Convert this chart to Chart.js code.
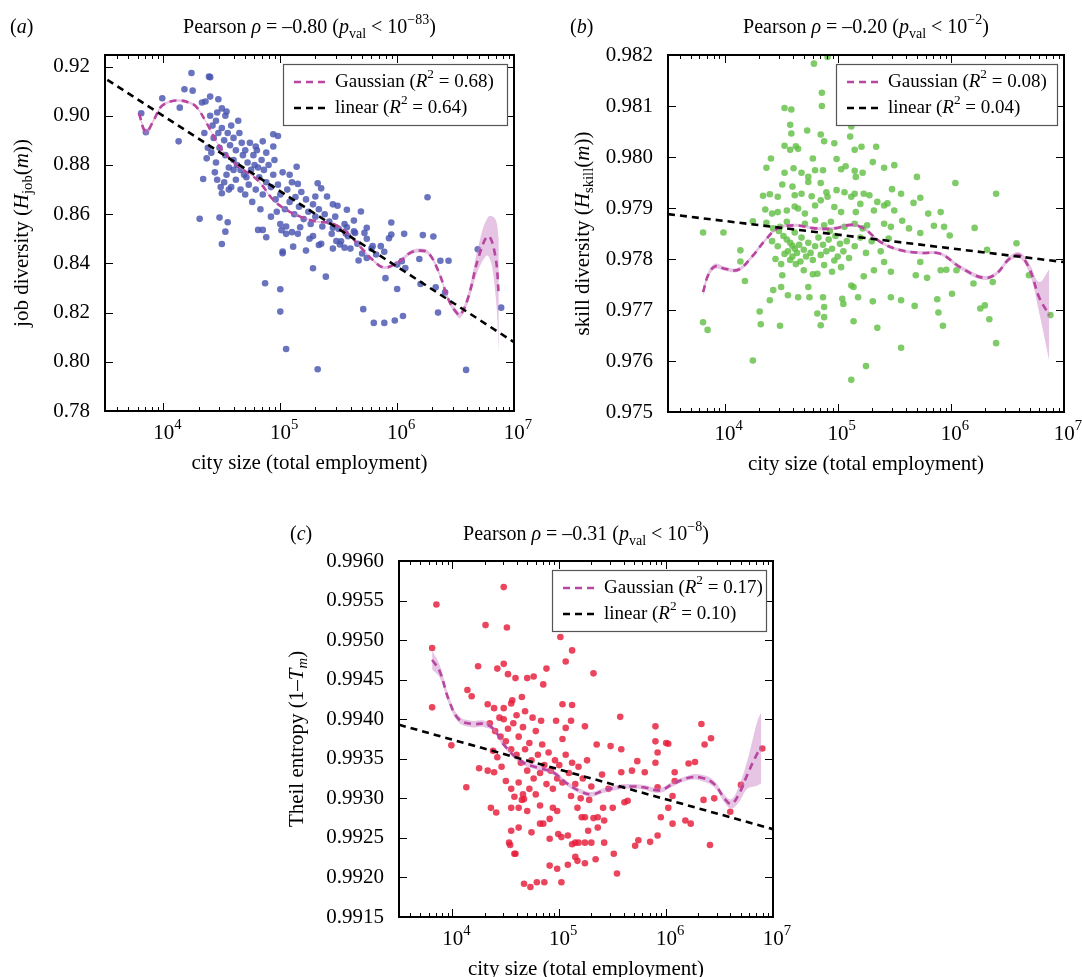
<!DOCTYPE html>
<html>
<head>
<meta charset="utf-8">
<script src="https://cdn.jsdelivr.net/npm/chart.js@4"></script>
<style>
  body { margin: 0; background: #fff; width: 1082px; height: 977px; position: relative; overflow: hidden; }
  canvas { position: absolute; }
</style>
</head>
<body>
<canvas id="ca" width="540" height="480" style="left:0px;top:0px"></canvas>
<canvas id="cb" width="522" height="480" style="left:560px;top:0px"></canvas>
<canvas id="cc" width="520" height="477" style="left:280px;top:500px"></canvas>
<script>
// city size is stored as log10(total employment)
const jobPts = [
  [4.24,0.9174],[4.39,0.9159],[4.40,0.9157],[4.18,0.9108],[4.25,0.9102],[3.99,0.9071],[4.40,0.9078],[4.47,0.9067],
  [4.33,0.9054],[4.36,0.9058],[4.14,0.9033],[3.81,0.9010],[3.85,0.8933],[4.13,0.8896],[4.46,0.9013],[4.54,0.9017],
  [4.53,0.9000],[4.94,0.8925],[4.98,0.8918],[4.85,0.8896],[4.79,0.8875],[4.94,0.8875],[4.37,0.8827],[4.34,0.8743],
  [4.50,0.8685],[5.14,0.8793],[5.08,0.8760],[5.15,0.8723],[5.32,0.8726],[5.35,0.8705],[5.40,0.8672],[5.30,0.8672],
  [4.31,0.8581],[4.48,0.8586],[4.55,0.8567],[4.53,0.8529],[4.50,0.8479],[4.81,0.8536],[4.88,0.8506],[4.85,0.8536],
  [5.02,0.8441],[5.02,0.8448],[5.11,0.8468],[5.22,0.8452],[5.33,0.8475],[5.28,0.8511],[5.01,0.8535],[5.05,0.8520],
  [5.10,0.8527],[5.17,0.8547],[4.87,0.8319],[5.00,0.8295],[5.00,0.8204],[5.05,0.8052],[5.32,0.7970],[5.28,0.8380],
  [5.39,0.8346],[5.45,0.8640],[5.49,0.8634],[5.57,0.8618],[5.69,0.8611],[5.63,0.8574],[5.57,0.8547],[5.74,0.8545],
  [5.72,0.8524],[5.64,0.8524],[5.56,0.8521],[5.45,0.8545],[5.48,0.8491],[5.51,0.8477],[5.55,0.8464],[5.71,0.8214],
  [5.80,0.8158],[5.89,0.8158],[5.98,0.8168],[6.05,0.8186],[5.95,0.8566],[5.95,0.8517],[5.93,0.8502],[6.06,0.8520],
  [6.22,0.8515],[6.31,0.8509],[6.26,0.8669],[6.19,0.8418],[6.37,0.8411],[6.44,0.8411],[5.90,0.8340],[6.00,0.8296],
  [6.20,0.8316],[6.33,0.8303],[6.41,0.8282],[6.35,0.8200],[6.59,0.7967],[6.69,0.8457],[6.89,0.8220],[5.79,0.8470],
  [5.86,0.8470],[5.89,0.8447],[5.82,0.8436],[5.74,0.8422],[5.67,0.8412],[6.04,0.8409],[6.00,0.8395],[6.07,0.8381],
  [4.40,0.900],[4.42,0.896],[4.45,0.898],[4.47,0.893],[4.43,0.891],[4.50,0.895],[4.52,0.890],[4.48,0.887],
  [4.55,0.893],[4.57,0.888],[4.53,0.884],[4.58,0.896],[4.60,0.891],[4.62,0.886],[4.60,0.882],[4.63,0.880],
  [4.56,0.879],[4.65,0.893],[4.67,0.889],[4.68,0.884],[4.66,0.878],[4.70,0.886],[4.72,0.881],[4.69,0.876],
  [4.74,0.889],[4.75,0.878],[4.77,0.884],[4.73,0.872],[4.78,0.880],[4.80,0.886],[4.82,0.875],[4.79,0.870],
  [4.84,0.882],[4.86,0.878],[4.88,0.873],[4.85,0.868],[4.90,0.880],[4.92,0.871],[4.94,0.876],[4.96,0.866],
  [4.98,0.872],[5.00,0.868],[5.02,0.877],[5.04,0.862],[5.06,0.870],[5.08,0.865],[5.10,0.873],[5.12,0.860],
  [5.13,0.867],[5.16,0.863],[5.18,0.869],[5.20,0.858],[5.22,0.866],[5.24,0.861],[5.26,0.856],[5.28,0.864],
  [5.30,0.859],[5.33,0.862],[5.36,0.855],[5.38,0.860],[5.42,0.857],[5.44,0.852],[5.47,0.859],[5.50,0.854],
  [5.52,0.849],[5.55,0.856],[5.58,0.851],[5.60,0.846],[5.63,0.853],[5.66,0.848],[5.70,0.844],[5.74,0.850],
  [5.78,0.846],[4.62,0.874],[4.54,0.876],[4.45,0.881],[4.38,0.887],[4.41,0.885],[4.58,0.871],[4.70,0.868],
  [4.76,0.865],[4.83,0.862],[4.92,0.859],[5.00,0.856],[4.88,0.885],[4.95,0.882],[4.64,0.898],[4.50,0.903],
  [4.35,0.893],[4.44,0.877],[4.52,0.873],[4.66,0.870],[4.97,0.861],[5.05,0.855],[5.15,0.852],[5.25,0.850],
  [5.35,0.848],[5.45,0.846],[4.46,0.874],[4.49,0.871],[4.56,0.870],[4.60,0.878],[4.71,0.875],[4.81,0.879]
];
const skillPts = [
  [4.91,0.98196],[4.79,0.98183],[4.86,0.98126],[4.86,0.98100],[4.53,0.98096],[4.59,0.98093],[4.58,0.98063],[4.59,0.98046],
  [4.73,0.98052],[4.85,0.98044],[4.88,0.98031],[4.97,0.98027],[5.12,0.98060],[5.11,0.98040],[5.15,0.98014],[5.21,0.98020],
  [5.34,0.98020],[4.53,0.98022],[4.58,0.98014],[4.63,0.98021],[4.65,0.98016],[4.41,0.97997],[4.78,0.97997],[4.99,0.97996],
  [4.37,0.97979],[4.53,0.97969],[4.61,0.97978],[4.68,0.97969],[4.74,0.97961],[4.80,0.97974],[4.87,0.97974],[5.03,0.97976],
  [5.07,0.97982],[5.15,0.97973],[5.16,0.97961],[5.22,0.97969],[5.31,0.97990],[5.41,0.97979],[5.50,0.97984],[5.70,0.97961],
  [6.04,0.97949],[4.51,0.97946],[4.60,0.97942],[4.74,0.97951],[4.85,0.97949],[4.99,0.97935],[5.06,0.97931],[5.15,0.97928],
  [5.23,0.97928],[4.34,0.97924],[4.40,0.97927],[4.47,0.97922],[4.62,0.97925],[4.68,0.97928],[4.77,0.97923],[4.90,0.97931],
  [4.91,0.97922],[5.12,0.97922],[5.28,0.97925],[5.35,0.97912],[5.44,0.97909],[5.48,0.97937],[5.56,0.97928],[5.67,0.97910],
  [5.73,0.97920],[6.40,0.97928],[4.36,0.97897],[4.42,0.97889],[4.47,0.97892],[4.55,0.97895],[4.62,0.97903],[4.65,0.97899],
  [4.71,0.97889],[4.80,0.97905],[4.85,0.97915],[4.97,0.97902],[5.03,0.97892],[5.16,0.97892],[5.20,0.97908],[5.32,0.97895],
  [5.41,0.97905],[5.50,0.97895],[5.57,0.97875],[5.80,0.97889],[5.91,0.97892],[4.25,0.97874],[4.37,0.97871],[4.43,0.97860],
  [4.49,0.97863],[4.55,0.97873],[4.71,0.97869],[4.80,0.97876],[4.88,0.97866],[4.94,0.97873],[5.06,0.97863],[5.15,0.97869],
  [5.26,0.97866],[5.41,0.97869],[5.47,0.97863],[5.63,0.97860],[5.73,0.97851],[5.85,0.97865],[5.94,0.97863],[5.99,0.97846],
  [6.21,0.97861],[3.81,0.97852],[3.99,0.97852],[4.14,0.97817],[4.14,0.97795],[4.18,0.97757],[3.81,0.97676],[3.85,0.97661],
  [4.25,0.97601],[4.31,0.97697],[4.32,0.97672],[4.49,0.97669],[4.40,0.97719],[4.43,0.97739],[4.50,0.97745],[4.51,0.97768],
  [4.56,0.97729],[4.65,0.97725],[4.74,0.97745],[4.75,0.97725],[4.82,0.97771],[4.87,0.97725],[4.88,0.97706],[4.88,0.97686],
  [4.85,0.97670],[4.82,0.97693],[4.97,0.97797],[5.03,0.97784],[5.04,0.97722],[5.05,0.97712],[5.12,0.97748],[5.14,0.97745],
  [5.18,0.97725],[5.14,0.97678],[5.23,0.97766],[5.31,0.97717],[5.35,0.97665],[5.32,0.97778],[5.41,0.97794],[5.47,0.97775],
  [5.47,0.97725],[5.56,0.97719],[5.56,0.97626],[5.68,0.97708],[5.69,0.97768],[5.73,0.97794],[5.79,0.97763],[5.88,0.97721],
  [5.89,0.97695],[5.93,0.97669],[5.91,0.97778],[5.96,0.97779],[6.05,0.97778],[6.01,0.97732],[6.20,0.97752],[6.26,0.97703],
  [6.30,0.97709],[6.34,0.97682],[6.37,0.97755],[6.40,0.97635],[6.58,0.97831],[6.69,0.97768],[6.88,0.97690],[6.32,0.97818],
  [5.12,0.97563],[5.25,0.97590],
  [4.52,0.97845],[4.55,0.97838],[4.58,0.97832],[4.60,0.97826],[4.62,0.97820],[4.56,0.97815],[4.53,0.97810],[4.60,0.97805],
  [4.64,0.97812],[4.66,0.97828],[4.68,0.97842],[4.70,0.97818],[4.72,0.97805],[4.58,0.97798],[4.63,0.97790],[4.67,0.97795],
  [4.74,0.97832],[4.76,0.97812],[4.78,0.97798],[4.80,0.97825],[4.83,0.97842],[4.85,0.97808],[4.87,0.97828],[4.90,0.97815],
  [4.92,0.97838],[4.95,0.97820],[4.98,0.97845],[5.00,0.97805],[5.02,0.97830],[5.05,0.97815],[5.08,0.97835],[5.10,0.97802],
  [4.47,0.97825],[4.45,0.97800],[4.50,0.97790],[4.70,0.97778],[4.78,0.97770],[4.88,0.97788],[4.95,0.97775],[5.15,0.97825],
  [5.20,0.97842],[5.25,0.97812],[5.30,0.97835],[5.38,0.97815],[5.45,0.97840],[4.42,0.97835],[4.48,0.97855],[4.62,0.97852],
  [4.93,0.97855],[5.22,0.97860]
];
const theilPts = [
  [3.85,0.99545],[4.48,0.99567],[4.31,0.99519],[4.51,0.99516],[5.01,0.99504],[5.12,0.99487],[5.06,0.99473],[5.32,0.99458],
  [3.81,0.99490],[3.81,0.99415],[4.24,0.99467],[4.42,0.99464],[4.48,0.99470],[4.52,0.99457],[4.59,0.99452],[4.70,0.99452],
  [4.76,0.99454],[4.88,0.99464],[4.85,0.99444],[4.14,0.99437],[4.18,0.99429],[4.33,0.99419],[4.39,0.99414],[4.48,0.99414],
  [4.56,0.99424],[4.65,0.99428],[3.99,0.99367],[4.13,0.99314],[4.25,0.99338],[4.33,0.99335],[4.39,0.99333],[5.03,0.99419],
  [5.12,0.99418],[4.97,0.99398],[5.06,0.99389],[5.11,0.99398],[5.24,0.99391],[5.03,0.99375],[5.35,0.99368],[5.48,0.99366],
  [5.58,0.99362],[5.57,0.99403],[5.90,0.99391],[5.90,0.99372],[6.00,0.99370],[6.02,0.99369],[5.90,0.99345],[5.92,0.99358],
  [5.73,0.99347],[5.68,0.99335],[5.80,0.99333],[5.58,0.99333],[6.08,0.99333],[6.08,0.99322],[6.21,0.99344],[6.27,0.99346],
  [6.33,0.99394],[6.36,0.99368],[6.42,0.99376],[6.35,0.99298],[6.45,0.99300],[6.60,0.99283],[6.70,0.99317],[6.90,0.99363],
  [5.92,0.99314],[6.02,0.99288],[6.06,0.99303],[6.06,0.99268],[6.18,0.99272],[6.23,0.99268],[5.95,0.99276],[5.92,0.99253],
  [5.85,0.99245],[5.74,0.99247],[5.71,0.99240],[5.51,0.99230],[5.54,0.99205],[5.42,0.99244],[5.30,0.99244],[5.36,0.99263],
  [5.27,0.99259],[6.41,0.99241],[4.67,0.99192],[4.73,0.99188],[4.79,0.99194],[4.86,0.99194],[4.91,0.99215],[4.98,0.99211],
  [5.02,0.99194],[5.08,0.99216],[5.15,0.99226],[5.17,0.99221],[5.24,0.99218],[5.34,0.99223],[4.53,0.99244],[4.54,0.99241],
  [4.58,0.99230],[4.59,0.99230],[4.55,0.99259],[4.62,0.99263],[4.74,0.99257],[4.82,0.99268],[4.85,0.99268],[4.91,0.99249],
  [4.99,0.99255],[5.02,0.99251],[5.08,0.99253],[5.12,0.99242],[5.15,0.99244],[5.18,0.99244],[5.24,0.99244],[4.36,0.99288],
  [4.41,0.99282],[4.55,0.99288],[4.62,0.99288],[4.67,0.99299],[4.70,0.99284],[4.82,0.99291],[4.91,0.99274],[4.94,0.99288],
  [4.98,0.99284],[5.11,0.99303],[5.17,0.99288],[5.21,0.99276],[5.24,0.99276],[5.32,0.99275],[5.36,0.99276],[5.41,0.99288],
  [5.42,0.99272],[5.50,0.99288],[5.61,0.99295],[5.64,0.99297],
  [4.35,0.99395],[4.40,0.99385],[4.45,0.99378],[4.48,0.99400],[4.50,0.99372],[4.52,0.99388],[4.55,0.99362],[4.57,0.99395],
  [4.60,0.99355],[4.62,0.99378],[4.64,0.99345],[4.66,0.99390],[4.68,0.99362],[4.70,0.99335],[4.72,0.99370],[4.74,0.99348],
  [4.76,0.99325],[4.78,0.99385],[4.80,0.99355],[4.82,0.99332],[4.84,0.99368],[4.86,0.99342],[4.88,0.99318],[4.90,0.99358],
  [4.92,0.99335],[4.94,0.99312],[4.96,0.99348],[4.98,0.99325],[5.00,0.99342],[5.03,0.99320],[5.06,0.99355],[5.09,0.99332],
  [5.12,0.99345],[5.15,0.99318],[5.18,0.99340],[5.22,0.99325],[5.26,0.99348],[5.30,0.99315],[4.42,0.99352],[4.46,0.99340],
  [4.50,0.99322],[4.55,0.99312],[4.58,0.99302],[4.62,0.99320],[4.66,0.99305],[4.60,0.99405],[4.68,0.99410],[4.75,0.99402],
  [4.83,0.99398],[4.55,0.99420],[4.38,0.99360],[4.44,0.99402],[4.65,0.99298],[4.72,0.99312],[4.78,0.99305],[5.20,0.99300],
  [5.28,0.99298],[5.40,0.99330],[5.46,0.99312]
];
// gaussian fit: [log10 size, value, band half width]
const gaussA = [
  [3.79,0.9010,0.0010],[3.85,0.8935,0.0012],[3.92,0.8985,0.0008],[3.98,0.9037,0.0006],[4.06,0.9058,0.0005],[4.14,0.9062,0.0005],
  [4.21,0.9055,0.0005],[4.28,0.9037,0.0005],[4.37,0.8970,0.0004],[4.48,0.8875,0.0004],[4.57,0.8825,0.0004],[4.66,0.8787,0.0004],
  [4.75,0.8760,0.0004],[4.83,0.8726,0.0004],[4.94,0.8658,0.0004],[5.05,0.8618,0.0004],[5.17,0.8590,0.0004],[5.31,0.8570,0.0004],
  [5.45,0.8561,0.0005],[5.57,0.8524,0.0005],[5.68,0.8470,0.0005],[5.79,0.8415,0.0006],[5.89,0.8383,0.0006],[6.02,0.8408,0.0007],
  [6.12,0.8445,0.0008],[6.20,0.8452,0.0008],[6.27,0.8441,0.0008],[6.36,0.8360,0.0009],[6.44,0.8252,0.0010],[6.50,0.8205,0.0012],
  [6.54,0.8190,0.0012],[6.61,0.8265,0.0020],[6.70,0.8430,0.0050],[6.78,0.8510,0.0080],[6.84,0.8430,0.0150],[6.87,0.8270,0.0230]
];
const gaussB = [
  [3.81,0.97735,0.00008],[3.86,0.97771,0.00006],[3.92,0.97786,0.00005],[4.00,0.97781,0.00004],[4.12,0.97779,0.00004],
  [4.24,0.97804,0.00004],[4.36,0.97837,0.00003],[4.47,0.97860,0.00003],[4.62,0.97866,0.00003],[4.80,0.97860,0.00003],
  [4.97,0.97860,0.00003],[5.12,0.97867,0.00003],[5.23,0.97860,0.00003],[5.38,0.97833,0.00003],[5.56,0.97817,0.00003],
  [5.73,0.97812,0.00003],[5.91,0.97810,0.00003],[6.08,0.97784,0.00004],[6.29,0.97763,0.00004],[6.40,0.97771,0.00004],
  [6.52,0.97801,0.00005],[6.61,0.97807,0.00006],[6.70,0.97778,0.00010],[6.78,0.97725,0.00030],[6.87,0.97690,0.00090]
];
const gaussC = [
  [3.81,0.99475,0.00012],[3.88,0.99461,0.00008],[3.97,0.99423,0.00005],[4.06,0.99400,0.00004],[4.18,0.99394,0.00004],
  [4.30,0.99394,0.00004],[4.39,0.99387,0.00003],[4.48,0.99368,0.00003],[4.64,0.99347,0.00003],[4.79,0.99339,0.00003],
  [4.94,0.99333,0.00003],[5.06,0.99320,0.00003],[5.18,0.99310,0.00003],[5.30,0.99305,0.00003],[5.42,0.99310,0.00003],
  [5.55,0.99314,0.00003],[5.67,0.99315,0.00003],[5.79,0.99314,0.00003],[5.94,0.99310,0.00003],[6.06,0.99318,0.00003],
  [6.21,0.99326,0.00003],[6.33,0.99326,0.00004],[6.45,0.99318,0.00004],[6.55,0.99299,0.00005],[6.61,0.99293,0.00006],
  [6.68,0.99305,0.00010],[6.76,0.99330,0.00018],[6.85,0.99356,0.00040],[6.89,0.99364,0.00045]
];
const linA = [[3.52,0.9146],[7.0,0.8080]];
const linB = [[3.50,0.97888],[7.0,0.97794]];
const linC = [[3.50,0.99393],[7.0,0.99261]];

const yTicksA = [0.78,0.80,0.82,0.84,0.86,0.88,0.90,0.92];
const yTicksB = [0.975,0.976,0.977,0.978,0.979,0.980,0.981,0.982];
const yTicksC = [0.9915,0.9920,0.9925,0.9930,0.9935,0.9940,0.9945,0.9950,0.9955,0.9960];
const xPowers = [4,5,6,7];

const SERIF = '"Liberation Serif", "DejaVu Serif", serif';
const GCOL = '#b8459f';

function richWidth(ctx, segs, size) {
  let w = 0;
  for (const s of segs) {
    const fs = s.s ? size * 0.7 : size;
    ctx.font = (s.i ? 'italic ' : '') + fs + 'px ' + SERIF;
    w += ctx.measureText(s.t).width;
  }
  return w;
}
// draw text pieces, some italic / sub / sup
function drawRich(ctx, x, y, segs, size, align) {
  const w = richWidth(ctx, segs, size);
  let cx = align === 'center' ? x - w / 2 : (align === 'right' ? x - w : x);
  ctx.textBaseline = 'middle';
  ctx.textAlign = 'left';
  ctx.fillStyle = '#000';
  for (const s of segs) {
    const fs = s.s ? size * 0.7 : size;
    ctx.font = (s.i ? 'italic ' : '') + fs + 'px ' + SERIF;
    const dy = s.s === 'sub' ? size * 0.3 : (s.s === 'sup' ? -size * 0.38 : 0);
    ctx.fillText(s.t, cx, y + dy);
    cx += ctx.measureText(s.t).width;
  }
}
const T = (t, o) => Object.assign({ t }, o || {});

function makePanel(id, cfg) {
  const band = cfg.gauss;
  const decor = {
    id: 'decor',
    afterDraw(chart) {
      const ctx = chart.ctx, a = chart.chartArea, xs = chart.scales.x, ys = chart.scales.y;
      ctx.save();
      // inward ticks on all sides
      ctx.strokeStyle = '#000';
      ctx.lineWidth = 1;
      ctx.beginPath();
      for (let p = 3; p < 7; p++) {
        for (let k = 1; k < 10; k++) {
          const v = k * Math.pow(10, p);
          if (v < xs.min || v > xs.max) continue;
          const px = Math.round(xs.getPixelForValue(v)) + 0.5;
          const len = k === 1 ? 8 : 4;
          ctx.moveTo(px, a.bottom); ctx.lineTo(px, a.bottom - len);
          ctx.moveTo(px, a.top); ctx.lineTo(px, a.top + len);
        }
      }
      for (const v of cfg.yTicks) {
        const py = Math.round(ys.getPixelForValue(v)) + 0.5;
        ctx.moveTo(a.left, py); ctx.lineTo(a.left + 8, py);
        ctx.moveTo(a.right, py); ctx.lineTo(a.right - 8, py);
      }
      ctx.stroke();
      ctx.lineWidth = 2;
      ctx.strokeRect(a.left, a.top, a.right - a.left, a.bottom - a.top);
      // x tick labels 10^n
      for (const p of xPowers) {
        const px = xs.getPixelForValue(Math.pow(10, p));
        drawRich(ctx, px + 4, a.bottom + 22, [T('10'), T(String(p), { s: 'sup' })], 21, 'center');
      }
      // axis titles
      drawRich(ctx, (a.left + a.right) / 2, a.bottom + 52, [T('city size (total employment)')], 21, 'center');
      ctx.save();
      ctx.translate(cfg.yTitleX, (a.top + a.bottom) / 2);
      ctx.rotate(-Math.PI / 2);
      drawRich(ctx, 0, 0, cfg.yTitle, 21, 'center');
      ctx.restore();
      // title and panel letter
      drawRich(ctx, (a.left + a.right) / 2, cfg.titleY, cfg.title, 20, 'center');
      drawRich(ctx, cfg.letterX, cfg.titleY, cfg.letter, 20, 'left');
      // legend
      const lw = cfg.legendW, lh = 61;
      const lx = a.right - 7 - lw, ly = a.top + 9;
      ctx.fillStyle = '#fff';
      ctx.fillRect(lx, ly, lw, lh);
      ctx.strokeStyle = '#555';
      ctx.lineWidth = 1.2;
      ctx.strokeRect(lx + 0.5, ly + 0.5, lw, lh);
      const rows = [[GCOL, cfg.legend[0]], ['#000', cfg.legend[1]]];
      rows.forEach((r, i) => {
        const yy = ly + 18 + i * 26;
        ctx.strokeStyle = r[0];
        ctx.lineWidth = 2.6;
        ctx.setLineDash([7, 5]);
        ctx.beginPath(); ctx.moveTo(lx + 11, yy); ctx.lineTo(lx + 42, yy); ctx.stroke();
        ctx.setLineDash([]);
        drawRich(ctx, lx + 52, yy, r[1], 19, 'left');
      });
      ctx.restore();
    }
  };
  return new Chart(document.getElementById(id), {
    type: 'scatter',
    data: {
      datasets: [
        { data: band.map(g => ({ x: Math.pow(10, g[0]), y: g[1] - g[2] })), showLine: true, pointRadius: 0,
          borderWidth: 0, borderColor: 'rgba(0,0,0,0)', tension: 0.4, order: 4 },
        { data: band.map(g => ({ x: Math.pow(10, g[0]), y: g[1] + g[2] })), showLine: true, pointRadius: 0,
          borderWidth: 0, borderColor: 'rgba(0,0,0,0)', backgroundColor: 'rgba(200,125,195,0.45)', fill: '-1', tension: 0.4, order: 4 },
        { data: cfg.points.map(p => ({ x: Math.pow(10, p[0]), y: p[1] })), pointRadius: 3.3, pointBorderWidth: 0,
          backgroundColor: cfg.color, order: 5 },
        { data: band.map(g => ({ x: Math.pow(10, g[0]), y: g[1] })), showLine: true, pointRadius: 0,
          borderColor: GCOL, borderWidth: 2.6, borderDash: [7, 5], tension: 0.4, order: 2 },
        { data: cfg.lin.map(p => ({ x: Math.pow(10, p[0]), y: p[1] })), showLine: true, pointRadius: 0,
          borderColor: '#000', borderWidth: 2.6, borderDash: [7, 5], order: 1 }
      ]
    },
    options: {
      responsive: false, animation: false, devicePixelRatio: 1,
      layout: { padding: { top: cfg.pad[0], right: cfg.pad[1], left: 0, bottom: 0 } },
      plugins: { legend: { display: false }, tooltip: { enabled: false } },
      scales: {
        x: { type: 'logarithmic', min: Math.pow(10, 3.5), max: 1e7, grid: { display: false }, border: { display: false },
             ticks: { display: false }, afterFit: s => { s.height = cfg.xH; } },
        y: { min: cfg.yTicks[0], max: cfg.yMax, grid: { display: false }, border: { display: false },
             afterBuildTicks: s => { s.ticks = cfg.yTicks.map(v => ({ value: v })); },
             ticks: { color: '#000', padding: 7, font: { family: SERIF, size: 21 }, callback: v => v.toFixed(cfg.dec) },
             afterFit: s => { s.width = cfg.yW; } }
      }
    },
    plugins: [decor]
  });
}

makePanel('ca', {
  points: jobPts, gauss: gaussA, lin: linA, yTicks: yTicksA, yMax: 0.9247, dec: 2,
  color: 'rgba(72,84,176,0.82)', pad: [55, 26], xH: 69, yW: 105, yTitleX: 22, titleY: 28, letterX: 10, legendW: 224,
  yTitle: [T('job diversity ('), T('H', { i: 1 }), T('job', { s: 'sub' }), T('('), T('m', { i: 1 }), T('))')],
  title: [T('Pearson '), T('ρ', { i: 1 }), T(' = –0.80 ('), T('p', { i: 1 }), T('val', { s: 'sub' }), T(' < 10'), T('−83', { s: 'sup' }), T(')')],
  letter: [T('('), T('a', { i: 1 }), T(')')],
  legend: [[T('Gaussian ('), T('R', { i: 1 }), T('2', { s: 'sup' }), T(' = 0.68)')], [T('linear ('), T('R', { i: 1 }), T('2', { s: 'sup' }), T(' = 0.64)')]]
});
makePanel('cb', {
  points: skillPts, gauss: gaussB, lin: linB, yTicks: yTicksB, yMax: 0.982, dec: 3,
  color: 'rgba(98,192,70,0.82)', pad: [55, 18], xH: 68, yW: 108, yTitleX: 23, titleY: 28, letterX: 10, legendW: 221,
  yTitle: [T('skill diversity ('), T('H', { i: 1 }), T('skill', { s: 'sub' }), T('('), T('m', { i: 1 }), T('))')],
  title: [T('Pearson '), T('ρ', { i: 1 }), T(' = –0.20 ('), T('p', { i: 1 }), T('val', { s: 'sub' }), T(' < 10'), T('−2', { s: 'sup' }), T(')')],
  letter: [T('('), T('b', { i: 1 }), T(')')],
  legend: [[T('Gaussian ('), T('R', { i: 1 }), T('2', { s: 'sup' }), T(' = 0.08)')], [T('linear ('), T('R', { i: 1 }), T('2', { s: 'sup' }), T(' = 0.04)')]]
});
makePanel('cc', {
  points: theilPts, gauss: gaussC, lin: linC, yTicks: yTicksC, yMax: 0.9960, dec: 4,
  color: 'rgba(230,28,58,0.82)', pad: [61, 27], xH: 60, yW: 119, yTitleX: 17, titleY: 35, letterX: 10, legendW: 214,
  yTitle: [T('Theil entropy (1–'), T('T', { i: 1 }), T('m', { i: 1, s: 'sub' }), T(')')],
  title: [T('Pearson '), T('ρ', { i: 1 }), T(' = –0.31 ('), T('p', { i: 1 }), T('val', { s: 'sub' }), T(' < 10'), T('−8', { s: 'sup' }), T(')')],
  letter: [T('('), T('c', { i: 1 }), T(')')],
  legend: [[T('Gaussian ('), T('R', { i: 1 }), T('2', { s: 'sup' }), T(' = 0.17)')], [T('linear ('), T('R', { i: 1 }), T('2', { s: 'sup' }), T(' = 0.10)')]]
});
</script>
</body>
</html>
